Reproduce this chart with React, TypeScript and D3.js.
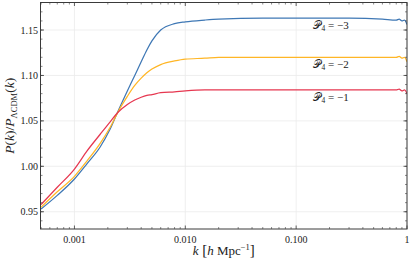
import { useEffect } from "react";
import * as d3 from "d3";

// wavenumbers k [h/Mpc]
const kValues = [
  0.0005, 0.0007, 0.001, 0.0013, 0.0017, 0.0021, 0.0025, 0.003, 0.0035, 0.004,
  0.0045, 0.005, 0.006, 0.008, 0.01, 0.015, 0.02, 0.05, 0.1, 0.3, 0.6, 0.8,
  0.85, 0.9, 0.95, 1.0,
];

// P(k)/P_LCDM(k) for P4 = -3, -2, -1
const ratioP4m3 = [
  0.953, 0.968, 0.986, 1.003, 1.021, 1.041, 1.062, 1.083, 1.1, 1.115,
  1.128, 1.138, 1.15, 1.157, 1.159, 1.161, 1.162, 1.163, 1.163, 1.163, 1.162, 1.161,
  1.162, 1.16, 1.161, 1.156,
];
const ratioP4m2 = [
  0.955, 0.972, 0.989, 1.006, 1.025, 1.043, 1.061, 1.077, 1.089, 1.097,
  1.103, 1.107, 1.112, 1.116, 1.118, 1.119, 1.12, 1.12, 1.12, 1.12, 1.12, 1.12,
  1.121, 1.119, 1.12, 1.115,
];
const ratioP4m1 = [
  0.958, 0.977, 0.997, 1.017, 1.035, 1.049, 1.06, 1.068, 1.073, 1.076,
  1.078, 1.079, 1.081, 1.082, 1.083, 1.084, 1.084, 1.084, 1.084, 1.084, 1.084, 1.084,
  1.085, 1.083, 1.084, 1.08,
];

const seriesLabels = ["\u22123", "\u22122", "\u22121"];
const seriesColors = ["#3f78b5", "#ffb626", "#e63750"];

const xTicks = [0.001, 0.01, 0.1, 1];
const xTickLabels = ["0.001", "0.010", "0.100", "1"];
const yTicks = [0.95, 1.0, 1.05, 1.1, 1.15];

const W = 411;
const H = 268;
const margin = { top: 2.5, right: 4, bottom: 39, left: 40.5 };

export default function App() {
  useEffect(() => {
    document.body.style.margin = "0";
  }, []);

  const x = d3
    .scaleLog()
    .domain([0.000494, 1])
    .range([margin.left, W - margin.right]);
  const y = d3
    .scaleLinear()
    .domain([0.931, 1.1803])
    .range([H - margin.bottom, margin.top]);

  const line = d3
    .line<number>()
    .x((_, i) => x(kValues[i]))
    .y((d) => y(d))
    .curve(d3.curveMonotoneX);

  const series = [ratioP4m3, ratioP4m2, ratioP4m1];

  // minor ticks
  const xMinor: number[] = [];
  for (let e = -4; e <= 0; e++) {
    for (let m = 2; m <= 9; m++) {
      const v = m * Math.pow(10, e);
      if (v > 0.000494 && v < 1) xMinor.push(v);
    }
  }
  const yMinor = d3.range(0.94, 1.18, 0.01).filter((v) => v > 0.931 && v < 1.18);

  const x0 = margin.left;
  const x1 = W - margin.right;
  const y0 = H - margin.bottom;
  const y1 = margin.top;
  const axisColor = "#3a3a3a";
  const font = "'Liberation Serif', 'DejaVu Serif', serif";

  return (
    <svg width={W} height={H} style={{ display: "block", background: "#fff" }}>
      <defs>
        <clipPath id="plot">
          <rect x={x0} y={y1} width={x1 - x0} height={y0 - y1} />
        </clipPath>
      </defs>

      {/* grid */}
      {xTicks.map((t) => (
        <line key={"gx" + t} x1={x(t)} x2={x(t)} y1={y0} y2={y1} stroke="#ebebeb" strokeWidth={0.8} />
      ))}
      {yTicks.map((t) => (
        <line key={"gy" + t} x1={x0} x2={x1} y1={y(t)} y2={y(t)} stroke="#ebebeb" strokeWidth={0.8} />
      ))}

      {/* curves */}
      <g clipPath="url(#plot)">
        {series.map((s, i) => (
          <path key={i} d={line(s) ?? ""} fill="none" stroke={seriesColors[i]} strokeWidth={1.25} />
        ))}
      </g>

      {/* series labels */}
      {seriesLabels.map((lab, i) => (
        <text
          key={lab}
          x={313}
          y={y(series[i][18]) + 11}
          fontFamily={font}
          fontSize={11}
          fill="#222"
        >
          <tspan>{"\uD835\uDCAB"}</tspan>
          <tspan fontSize={7.5} dx={0.5} dy={2}>4</tspan>
          <tspan dy={-2}>{" = " + lab}</tspan>
        </text>
      ))}

      {/* ticks */}
      {xTicks.map((t) => (
        <g key={"tx" + t}>
          <line x1={x(t)} x2={x(t)} y1={y0} y2={y0 - 3.5} stroke={axisColor} strokeWidth={0.8} />
          <line x1={x(t)} x2={x(t)} y1={y1} y2={y1 + 3.5} stroke={axisColor} strokeWidth={0.8} />
        </g>
      ))}
      {xMinor.map((t) => (
        <g key={"mx" + t}>
          <line x1={x(t)} x2={x(t)} y1={y0} y2={y0 - 2} stroke={axisColor} strokeWidth={0.6} />
          <line x1={x(t)} x2={x(t)} y1={y1} y2={y1 + 2} stroke={axisColor} strokeWidth={0.6} />
        </g>
      ))}
      {yTicks.map((t) => (
        <g key={"ty" + t}>
          <line x1={x0} x2={x0 + 3.5} y1={y(t)} y2={y(t)} stroke={axisColor} strokeWidth={0.8} />
          <line x1={x1} x2={x1 - 3.5} y1={y(t)} y2={y(t)} stroke={axisColor} strokeWidth={0.8} />
        </g>
      ))}
      {yMinor.map((t) => (
        <g key={"my" + t}>
          <line x1={x0} x2={x0 + 2} y1={y(t)} y2={y(t)} stroke={axisColor} strokeWidth={0.6} />
          <line x1={x1} x2={x1 - 2} y1={y(t)} y2={y(t)} stroke={axisColor} strokeWidth={0.6} />
        </g>
      ))}

      {/* frame */}
      <rect x={x0} y={y1} width={x1 - x0} height={y0 - y1} fill="none" stroke={axisColor} strokeWidth={1} />

      {/* tick labels */}
      {xTicks.map((t, i) => (
        <text key={"lx" + t} x={x(t)} y={y0 + 14} textAnchor="middle" fontFamily={font} fontSize={10} fill="#222">
          {xTickLabels[i]}
        </text>
      ))}
      {yTicks.map((t) => (
        <text key={"ly" + t} x={x0 - 2.5} y={y(t)} dy="0.35em" textAnchor="end" fontFamily={font} fontSize={10} fill="#222">
          {d3.format(".2f")(t)}
        </text>
      ))}

      {/* axis titles */}
      <text x={(x0 + x1) / 2} y={H - 13} textAnchor="middle" fontFamily={font} fontSize={13} fill="#222">
        <tspan fontStyle="italic">k</tspan>
        <tspan fontSize={15}> [</tspan>
        <tspan fontStyle="italic">h</tspan>
        <tspan> Mpc</tspan>
        <tspan fontSize={8.5} dy={-5}>{"\u22121"}</tspan>
        <tspan fontSize={15} dy={5}>]</tspan>
      </text>
      <text
        transform={`translate(14,${(y0 + y1) / 2}) rotate(-90)`}
        textAnchor="middle"
        fontFamily={font}
        fontSize={13.5}
        fill="#222"
      >
        <tspan fontStyle="italic">P</tspan>
        <tspan>(</tspan>
        <tspan fontStyle="italic">k</tspan>
        <tspan>)/</tspan>
        <tspan fontStyle="italic">P</tspan>
        <tspan fontSize={8.5} dy={3}>ΛCDM</tspan>
        <tspan dy={-3}>(</tspan>
        <tspan fontStyle="italic">k</tspan>
        <tspan>)</tspan>
      </text>
    </svg>
  );
}
